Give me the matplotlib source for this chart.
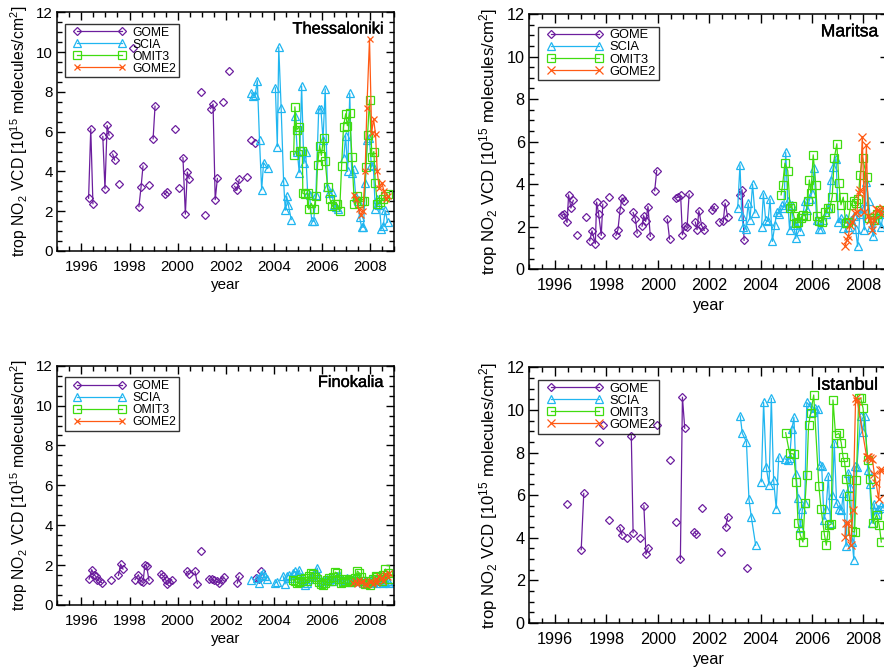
import numpy as np
import matplotlib
matplotlib.use("Agg")
import matplotlib.pyplot as plt
import matplotlib.patheffects as pe
from matplotlib.ticker import MultipleLocator
from matplotlib.legend_handler import HandlerLine2D
from matplotlib.lines import Line2D

OUT_FIG = "out.png"

plt.rcParams["font.family"] = ["Liberation Sans", "DejaVu Sans"]
plt.rcParams["mathtext.fontset"] = "custom"
plt.rcParams["mathtext.rm"] = "Liberation Sans"
plt.rcParams["mathtext.it"] = "Liberation Sans:italic"
plt.rcParams["mathtext.bf"] = "Liberation Sans:bold"

# None = gap in the time series (line is broken there)

# ---------------- Thessaloniki ----------------
thes_gome_t = [1996.30, 1996.39, 1996.48, None, 1996.89, 1996.98, 1997.07, 1997.15, None,
               1997.30, 1997.38, None, 1997.55, None, 1998.16, None, 1998.39, 1998.48, 1998.56, None,
               1998.82, None, 1998.98, 1999.06, None, 1999.46, 1999.56, None, 1999.88, None,
               2000.06, None, 2000.22, 2000.32, 2000.40, 2000.48, None, 2000.98, None, 2001.13, None,
               2001.37, 2001.47, 2001.56, 2001.65, None, 2001.90, None, 2002.15, None,
               2002.37, 2002.46, 2002.56, None, 2002.89, None, 2003.06, None, 2003.23]
thes_gome_v = [2.65, 6.14, 2.38, None, 5.76, 3.12, 6.31, 5.82, None,
               4.87, 4.57, None, 3.39, None, 10.2, None, 2.23, 3.22, 4.27, None,
               3.34, None, 5.64, 7.28, None, 2.85, 2.97, None, 6.12, None,
               3.15, None, 4.69, 1.85, 3.97, 3.64, None, 7.98, None, 1.82, None,
               7.16, 7.39, 2.58, 3.65, None, 7.49, None, 9.06, None,
               3.25, 3.05, 3.60, None, 3.72, None, 5.60, None, 5.44]

thes_scia_t = [2003.06, 2003.14, 2003.22, 2003.31, 2003.40, 2003.49, 2003.57, 2003.74, None,
               2004.06, 2004.14, 2004.20, 2004.30, 2004.40, 2004.47, 2004.53, 2004.60, 2004.72, None,
               2004.88, 2004.97, 2005.05, 2005.15, 2005.24, 2005.32, 2005.40, 2005.48, 2005.57,
               2005.65, 2005.74, 2005.86, 2005.95, 2006.04, 2006.13, 2006.22, 2006.30, 2006.40,
               2006.49, 2006.57, 2006.65, None,
               2006.90, 2006.98, 2007.06, 2007.15, 2007.23, 2007.31, 2007.40, 2007.48, 2007.56,
               2007.64, 2007.72, 2007.80, 2007.88, 2007.96, 2008.05, 2008.13, 2008.21, 2008.30,
               2008.38, 2008.46, 2008.54, 2008.62, 2008.72]
thes_scia_v = [7.95, 7.80, 7.83, 8.56, 5.57, 3.07, 4.44, 4.15, None,
               8.20, 5.25, 10.25, 7.17, 3.54, 2.05, 2.75, 2.30, 1.58, None,
               6.80, 5.00, 3.94, 8.30, 4.40, 5.00, 2.90, 2.80, 1.50,
               1.50, 2.80, 7.14, 7.14, 5.60, 8.15, 3.20, 2.90, 2.95,
               2.30, 2.20, 2.10, None,
               4.70, 5.80, 4.00, 7.92, 3.90, 4.10, 2.70, 2.50, 1.70,
               1.20, 1.20, 3.40, 5.60, 5.70, 4.30, 4.27, 2.10, 2.60,
               2.30, 1.10, 1.25, 2.05, 1.45]

thes_omi_t = [2004.82, 2004.87, 2004.95, 2005.05, 2005.08, 2005.18, 2005.20, 2005.30, 2005.40,
              2005.45, 2005.55, 2005.65, 2005.76, 2005.81, 2005.90, 2005.97, 2006.06, 2006.13,
              2006.23, 2006.33, 2006.42, 2006.52, 2006.62, 2006.73, 2006.81, 2006.89, 2006.98,
              2007.05, 2007.14, 2007.24, 2007.34, 2007.43, 2007.53, 2007.65, 2007.75, 2007.82,
              2007.89, 2007.97, 2008.07, 2008.15, 2008.21, 2008.30, 2008.42, 2008.53, 2008.62,
              2008.72]
thes_omi_v = [4.84, 7.25, 6.10, 6.25, 5.05, 5.05, 2.90, 2.85, 2.90,
              2.10, 2.40, 2.10, 2.75, 4.30, 5.30, 4.80, 5.70, 4.50,
              3.20, 2.60, 2.25, 2.35, 2.35, 2.00, 4.25, 6.25, 6.90,
              6.30, 6.95, 4.75, 2.35, 2.75, 2.40, 2.50, 2.50, 4.20,
              5.85, 7.60, 4.75, 5.00, 3.40, 2.35, 2.45, 2.60, 2.75,
              2.85]

thes_gome2_t = [2007.34, 2007.42, 2007.52, 2007.61, 2007.70, 2007.79, 2007.86, 2007.97, 2008.06,
                2008.14, 2008.22, 2008.29, 2008.37, 2008.48, 2008.57, 2008.66, 2008.73]
thes_gome2_v = [2.82, 2.60, 2.10, 1.80, 2.00, 4.02, 7.19, 10.66, 5.94,
                6.64, 5.86, 4.02, 3.18, 3.44, 3.02, 2.60, 2.77]

# ---------------- Maritsa ----------------
mari_gome_t = [1996.27, 1996.36, 1996.47, 1996.53, 1996.62, 1996.71, None, 1996.87, None, 1997.21, None,
               1997.35, 1997.44, 1997.57, 1997.62, 1997.70, 1997.80, 1997.86, None, 1998.11, None,
               1998.37, 1998.45, 1998.53, 1998.61, 1998.70, None, 1999.04, 1999.13, 1999.20, None,
               1999.39, 1999.45, 1999.53, 1999.62, 1999.71, None, 1999.88, 1999.96, None,
               2000.37, 2000.46, None, 2000.71, 2000.80, 2000.89, 2000.96, 2001.05, 2001.14, 2001.22, None,
               2001.46, 2001.53, 2001.60, 2001.71, 2001.81, None, 2002.12, 2002.20, None, 2002.38, None,
               2002.55, 2002.62, 2002.72, None, 2003.19, 2003.28, 2003.36]
mari_gome_v = [2.53, 2.61, 2.20, 3.50, 2.88, 3.24, None, 1.62, None, 2.44, None,
               1.34, 1.81, 1.20, 3.16, 2.59, 1.59, 3.06, None, 3.38, None,
               1.59, 1.86, 2.77, 3.35, 3.19, None, 2.67, 2.36, 1.70, None,
               2.03, 2.52, 2.25, 2.95, 1.55, None, 3.69, 4.64, None,
               2.36, 1.42, None, 3.35, 3.40, 3.47, 1.62, 2.02, 1.97, 3.53, None,
               2.22, 1.86, 2.75, 2.05, 1.83, None, 2.77, 2.95, None, 2.20, None,
               2.25, 3.11, 2.47, None, 3.50, 3.74, 1.36]

mari_scia_t = [2003.11, 2003.20, 2003.27, 2003.33, 2003.42, 2003.52, 2003.59, 2003.69, 2003.78, None,
               2004.04, 2004.11, 2004.20, 2004.29, 2004.37, 2004.46, 2004.56, 2004.63, 2004.72,
               2004.82, 2004.91, 2004.98, 2005.06, 2005.13, 2005.21, 2005.29, 2005.37, 2005.44,
               2005.55, 2005.64, 2005.73, 2005.82, 2005.91, 2006.00, 2006.09, 2006.18, 2006.26,
               2006.35, 2006.44, 2006.55, 2006.64, 2006.74, 2006.83, 2006.94, 2007.03, 2007.13,
               2007.22, 2007.33, 2007.42, 2007.52, 2007.62, 2007.70, 2007.78, 2007.87, 2007.96,
               2008.04, 2008.12, 2008.21, 2008.30, 2008.39, 2008.48, 2008.58, 2008.69, 2008.78]
mari_scia_v = [2.88, 4.91, 2.50, 2.00, 1.90, 3.10, 2.33, 4.00, 2.65, None,
               2.00, 3.55, 2.30, 2.25, 3.30, 1.31, 2.10, 2.70, 2.60,
               3.00, 2.90, 5.50, 3.20, 1.86, 3.00, 2.10, 1.45, 2.20,
               1.78, 2.50, 3.20, 2.80, 3.30, 3.60, 4.75, 2.30, 1.90,
               1.90, 2.30, 2.60, 2.90, 4.20, 4.80, 5.20, 2.20, 2.40,
               1.95, 2.40, 2.00, 2.30, 2.50, 1.90, 1.08, 2.60, 2.90,
               1.85, 4.10, 3.20, 2.00, 1.55, 2.30, 2.60, 2.00, 2.60]

mari_omi_t = [2004.80, 2004.86, 2004.95, 2005.06, 2005.15, 2005.21, 2005.30, 2005.37, 2005.47,
              2005.56, 2005.67, 2005.76, 2005.83, 2005.90, 2005.96, 2006.05, 2006.15, 2006.21,
              2006.29, 2006.38, 2006.51, 2006.61, 2006.70, 2006.79, 2006.87, 2006.97, 2007.05,
              2007.13, 2007.22, 2007.31, 2007.39, 2007.52, 2007.62, 2007.71, 2007.81, 2007.87,
              2007.97, 2008.13, 2008.22, 2008.32, 2008.43, 2008.52, 2008.65, 2008.78]
mari_omi_v = [3.50, 3.97, 4.99, 4.64, 2.88, 2.99, 2.49, 2.17, 2.20,
              2.40, 2.56, 2.50, 3.19, 4.20, 3.60, 5.38, 3.97, 2.49,
              2.25, 2.20, 2.70, 2.88, 2.90, 3.42, 5.22, 5.90, 4.05,
              3.03, 3.39, 2.17, 2.20, 3.03, 3.22, 3.10, 3.30, 4.44,
              5.25, 4.36, 2.40, 2.41, 2.30, 2.60, 2.80, 2.70]

mari_gome2_t = [2007.29, 2007.35, 2007.42, 2007.48, 2007.57, 2007.67, 2007.75, 2007.82, 2007.88,
                2007.96, 2008.04, 2008.12, 2008.19, 2008.27, 2008.35, 2008.43, 2008.51, 2008.59,
                2008.68, 2008.77]
mari_gome2_v = [1.08, 1.36, 1.55, 2.10, 2.20, 2.64, 2.70, 3.60, 3.74,
                6.24, 2.70, 5.85, 2.49, 2.30, 1.86, 2.30, 2.85, 2.80,
                2.60, 2.90]

# ---------------- Finokalia ----------------
fino_gome_t = [1996.32, 1996.43, 1996.53, 1996.60, 1996.66, 1996.76, 1996.84, None, 1997.22, None,
               1997.54, 1997.63, 1997.73, None, 1998.23, 1998.37, 1998.46, 1998.56, 1998.64, 1998.71,
               1998.81, None, 1999.29, 1999.40, 1999.50, 1999.57, 1999.65, 1999.75, None,
               2000.37, 2000.46, None, 2000.72, 2000.82, None, 2000.97, None,
               2001.31, 2001.41, 2001.51, 2001.62, 2001.72, 2001.83, 2001.92, None,
               2002.48, 2002.55, None, 2003.27, 2003.36, None, 2003.47]
fino_gome_v = [1.30, 1.77, 1.52, 1.43, 1.27, 1.18, 1.12, None, 1.23, None,
               1.48, 2.05, 1.80, None, 1.27, 1.52, 1.18, 1.13, 2.02, 1.97,
               1.23, None, 1.55, 1.47, 1.27, 1.07, 1.13, 1.27, None,
               1.68, 1.55, None, 1.68, 1.07, None, 2.73, None,
               1.30, 1.30, 1.23, 1.18, 1.10, 1.23, 1.40, None,
               1.10, 1.43, None, 1.33, 1.32, None, 1.73]

fino_scia_t = [2003.06, None, 2003.30, 2003.38, 2003.47, 2003.55, 2003.62, 2003.70, None,
               2004.06, 2004.14, None, 2004.38, 2004.46, 2004.55, 2004.63, 2004.72, 2004.80,
               2004.88, 2004.97, 2005.05, 2005.13, 2005.21, 2005.30, 2005.38, 2005.46, 2005.55,
               2005.63, 2005.72, 2005.80, 2005.88, 2005.97, 2006.05, 2006.13, 2006.22, 2006.30,
               2006.38, 2006.47, 2006.55, 2006.63, 2006.72, 2006.80, 2006.88, 2006.97, 2007.05,
               2007.13, 2007.22, 2007.30, 2007.38, 2007.47, 2007.55, 2007.63, 2007.72, 2007.80,
               2007.88, 2007.97, 2008.05, 2008.13, 2008.22, 2008.30, 2008.38, 2008.47, 2008.55,
               2008.63, 2008.72, 2008.80]
fino_scia_v = [1.27, None, 1.35, 1.10, 1.50, 1.60, 1.45, 1.30, None,
               1.12, 1.15, None, 1.45, 1.05, 1.45, 1.50, 1.35, 1.60,
               1.68, 1.55, 1.75, 1.40, 1.25, 1.00, 1.10, 1.30, 1.40,
               1.50, 1.60, 1.85, 1.40, 1.20, 1.10, 1.25, 1.30, 1.20,
               1.35, 1.20, 1.30, 1.45, 1.50, 1.30, 1.20, 1.25, 1.35,
               1.20, 1.15, 1.30, 1.25, 1.20, 1.30, 1.20, 1.10, 1.25,
               1.15, 1.20, 1.30, 1.15, 1.10, 1.25, 1.20, 1.30, 1.10,
               1.15, 1.20, 1.10]

fino_omi_t = [2004.80, 2004.88, 2004.97, 2005.05, 2005.13, 2005.22, 2005.30, 2005.38, 2005.47,
              2005.55, 2005.63, 2005.72, 2005.80, 2005.88, 2005.97, 2006.05, 2006.13, 2006.22,
              2006.30, 2006.38, 2006.47, 2006.55, 2006.63, 2006.72, 2006.80, 2006.88, 2006.97,
              2007.05, 2007.13, 2007.22, 2007.30, 2007.38, 2007.47, 2007.55, 2007.63, 2007.72,
              2007.80, 2007.88, 2007.97, 2008.05, 2008.13, 2008.22, 2008.30, 2008.38, 2008.47,
              2008.55, 2008.63, 2008.72, 2008.80]
fino_omi_v = [1.25, 1.20, 1.10, 1.15, 1.30, 1.20, 1.35, 1.20, 1.45,
              1.60, 1.55, 1.40, 1.30, 1.15, 1.05, 1.00, 1.10, 1.25,
              1.35, 1.20, 1.40, 1.65, 1.60, 1.30, 1.10, 1.15, 1.20,
              1.30, 1.25, 1.15, 1.20, 1.35, 1.70, 1.60, 1.40, 1.20,
              1.05, 1.10, 1.00, 1.20, 1.30, 1.45, 1.40, 1.30, 1.20,
              1.50, 1.80, 1.60, 1.30]

fino_gome2_t = [2007.30, 2007.38, 2007.47, 2007.55, 2007.63, 2007.72, 2007.80, 2007.88, 2007.97,
                2008.05, 2008.13, 2008.22, 2008.30, 2008.38, 2008.47, 2008.55, 2008.63, 2008.72,
                2008.80]
fino_gome2_v = [1.10, 1.20, 1.05, 1.25, 1.15, 1.20, 1.05, 1.00, 1.15,
                1.20, 1.05, 1.30, 1.10, 1.45, 1.35, 1.20, 1.55, 1.40,
                1.60]

# ---------------- Istanbul ----------------
ista_gome_t = [1996.47, None, 1997.02, 1997.12, None, 1997.73, None, 1997.86, None, 1998.10, None,
               1998.52, 1998.61, None, 1998.80, None, 1998.97, 1999.04, None, 1999.30, None,
               1999.46, 1999.54, 1999.63, None, 1999.97, None, 2000.46, None, 2000.71, None,
               2000.88, 2000.96, 2001.05, None, 2001.42, 2001.50, None, 2001.71, None,
               2002.46, None, 2002.64, 2002.72, None, 2003.46]
ista_gome_v = [5.59, None, 3.44, 6.08, None, 8.51, None, 9.28, None, 4.85, None,
               4.48, 4.12, None, 4.00, None, 8.79, 4.24, None, 4.00, None,
               5.50, 3.22, 3.52, None, 9.28, None, 7.65, None, 4.75, None,
               2.99, 10.60, 9.14, None, 4.27, 4.16, None, 5.42, None,
               3.33, None, 4.51, 4.98, None, 2.60]

ista_scia_t = [2003.21, 2003.29, 2003.45, 2003.55, 2003.64, 2003.81, None,
               2004.03, 2004.12, 2004.22, 2004.33, 2004.42, 2004.51, 2004.61, 2004.71, None,
               2004.96, 2005.05, 2005.13, 2005.22, 2005.30, 2005.38, 2005.46, 2005.55, 2005.63,
               2005.72, 2005.80, 2005.92, 2006.05, 2006.13, 2006.22, 2006.30, 2006.38, 2006.47,
               2006.55, 2006.64, 2006.72, 2006.80, 2006.87, 2006.96, 2007.07, 2007.15, 2007.22,
               2007.33, 2007.42, 2007.50, 2007.57, 2007.63, 2007.68, 2007.75, 2007.90, 2007.97,
               2008.07, 2008.17, 2008.25, 2008.33, 2008.42, 2008.50, 2008.58, 2008.69, 2008.77]
ista_scia_v = [9.72, 8.90, 8.51, 5.80, 4.98, 3.65, None,
               6.63, 10.35, 7.33, 6.47, 10.55, 6.70, 5.37, 7.80, None,
               7.70, 7.65, 7.73, 9.10, 9.65, 7.00, 5.87, 4.46, 5.33,
               5.64, 10.35, 10.20, 9.90, 10.10, 10.03, 7.40, 7.36, 4.85,
               5.33, 6.90, 4.70, 6.00, 8.46, 5.64, 5.33, 5.30, 6.10,
               3.60, 7.05, 6.40, 3.80, 2.97, 7.36, 7.30, 9.70, 8.98,
               9.72, 7.20, 6.50, 4.70, 5.60, 5.10, 5.33, 5.48, 5.40]

ista_omi_t = [2004.98, 2005.13, 2005.29, 2005.39, 2005.46, 2005.55, 2005.65, 2005.73, 2005.80,
              2005.87, 2005.95, 2006.07, 2006.27, 2006.36, 2006.49, 2006.56, 2006.66, 2006.75,
              2006.82, 2006.92, 2007.05, 2007.14, 2007.21, 2007.27, 2007.34, 2007.45, 2007.57,
              2007.66, 2007.73, 2007.82, 2007.90, 2007.99, 2008.18, 2008.25, 2008.38, 2008.52,
              2008.62, 2008.70]
ista_omi_v = [8.93, 7.96, 7.93, 6.63, 4.70, 4.12, 3.80, 5.64, 6.94,
              9.30, 9.84, 10.70, 6.42, 5.33, 4.12, 3.65, 4.59, 4.64,
              10.47, 8.82, 8.90, 8.46, 7.80, 7.57, 6.78, 5.95, 4.30,
              4.27, 6.70, 10.55, 10.55, 10.08, 7.65, 6.78, 4.67, 5.09,
              4.60, 3.80]

ista_gome2_t = [2007.28, 2007.34, 2007.42, 2007.51, 2007.60, 2007.70, 2007.77, 2008.13, 2008.20,
                2008.27, 2008.35, 2008.43, 2008.50, 2008.60, 2008.66, 2008.74]
ista_gome2_v = [4.04, 4.67, 4.70, 3.65, 5.29, 10.55, 10.40, 7.80, 7.80,
                7.75, 7.70, 7.00, 6.55, 5.80, 7.20, 7.20]

# ---------------- style ----------------
COL_GOME = "#6c1e9e"
COL_SCIA = "#20b6f0"
COL_OMI = "#40dc10"
COL_GOME2 = "#ff5a14"

W, H = 884, 667


def arr(x):
    return np.array([np.nan if a is None else a for a in x], dtype=float)


def panel(rect_px, name, series, scale):
    x0, y0, w, h = rect_px
    ax = fig.add_axes([x0 / W, 1 - (y0 + h) / H, w / W, h / H])
    fs = 10.9 * scale
    styles = [
        ("GOME", COL_GOME, "D", 3.9 * scale),
        ("SCIA", COL_SCIA, "^", 5.4 * scale),
        ("OMIT3", COL_OMI, "s", 5.2 * scale),
        ("GOME2", COL_GOME2, "x", 4.8 * scale),
    ]
    for (t, v), (lab, col, mk, ms) in zip(series, styles):
        ax.plot(arr(t), arr(v), color=col, lw=0.9, marker=mk, ms=ms, mfc="none",
                mec=col, mew=0.9, label=lab)

    ax.set_xlim(1995, 2009)
    ax.set_ylim(0, 12)
    ax.xaxis.set_major_locator(MultipleLocator(2))
    ax.xaxis.set_minor_locator(MultipleLocator(0.5))
    ax.yaxis.set_major_locator(MultipleLocator(2))
    ax.yaxis.set_minor_locator(MultipleLocator(0.5))
    ax.tick_params(which="both", direction="in", top=True, right=True, width=1.0)
    ax.tick_params(which="major", length=6 * scale)
    ax.tick_params(which="minor", length=3.5 * scale)
    ax.tick_params(axis="x", labelsize=fs, pad=6.5)
    ax.tick_params(axis="y", labelsize=fs, pad=3.2)
    for s in ax.spines.values():
        s.set_linewidth(1.1)

    ax.set_xlabel("year", fontsize=fs, va="center")
    ax.xaxis.set_label_coords(0.5, -0.142)
    ax.set_ylabel("trop NO$_2$ VCD [10$^{15}$ molecules/cm$^2$]", fontsize=11.3 * scale,
                  va="center")
    ax.yaxis.set_label_coords(-0.112, 0.5)

    ax.text(0.969, 0.93, name, transform=ax.transAxes, ha="right", va="center",
            fontsize=11.8 * scale,
            path_effects=[pe.withStroke(linewidth=0.3, foreground="black")])

    leg = ax.legend(loc="upper left", bbox_to_anchor=(0.023, 0.951), borderaxespad=0,
                    fontsize=8.7 * scale, numpoints=2, handlelength=5.3, handletextpad=0.05,
                    labelspacing=0.0, borderpad=0.22, fancybox=False, frameon=True,
                    handler_map={Line2D: HandlerLine2D(marker_pad=0.78, numpoints=2)})
    fr = leg.get_frame()
    fr.set_edgecolor("black")
    fr.set_facecolor("none")
    fr.set_linewidth(1.0)
    return ax


fig = plt.figure(figsize=(W / 100, H / 100), dpi=100)

panel((57.3, 12.3, 337.0, 238.7), "Thessaloniki",
      [(thes_gome_t, thes_gome_v), (thes_scia_t, thes_scia_v),
       (thes_omi_t, thes_omi_v), (thes_gome2_t, thes_gome2_v)], 1.0)
panel((529.3, 14.0, 359.7, 255.3), "Maritsa",
      [(mari_gome_t, mari_gome_v), (mari_scia_t, mari_scia_v),
       (mari_omi_t, mari_omi_v), (mari_gome2_t, mari_gome2_v)], 1.07)
panel((57.3, 365.7, 337.0, 239.3), "Finokalia",
      [(fino_gome_t, fino_gome_v), (fino_scia_t, fino_scia_v),
       (fino_omi_t, fino_omi_v), (fino_gome2_t, fino_gome2_v)], 1.0)
panel((529.3, 367.3, 359.7, 255.7), "Istanbul",
      [(ista_gome_t, ista_gome_v), (ista_scia_t, ista_scia_v),
       (ista_omi_t, ista_omi_v), (ista_gome2_t, ista_gome2_v)], 1.07)

fig.savefig(OUT_FIG, dpi=100)
plt.close(fig)
print("saved", OUT_FIG)
